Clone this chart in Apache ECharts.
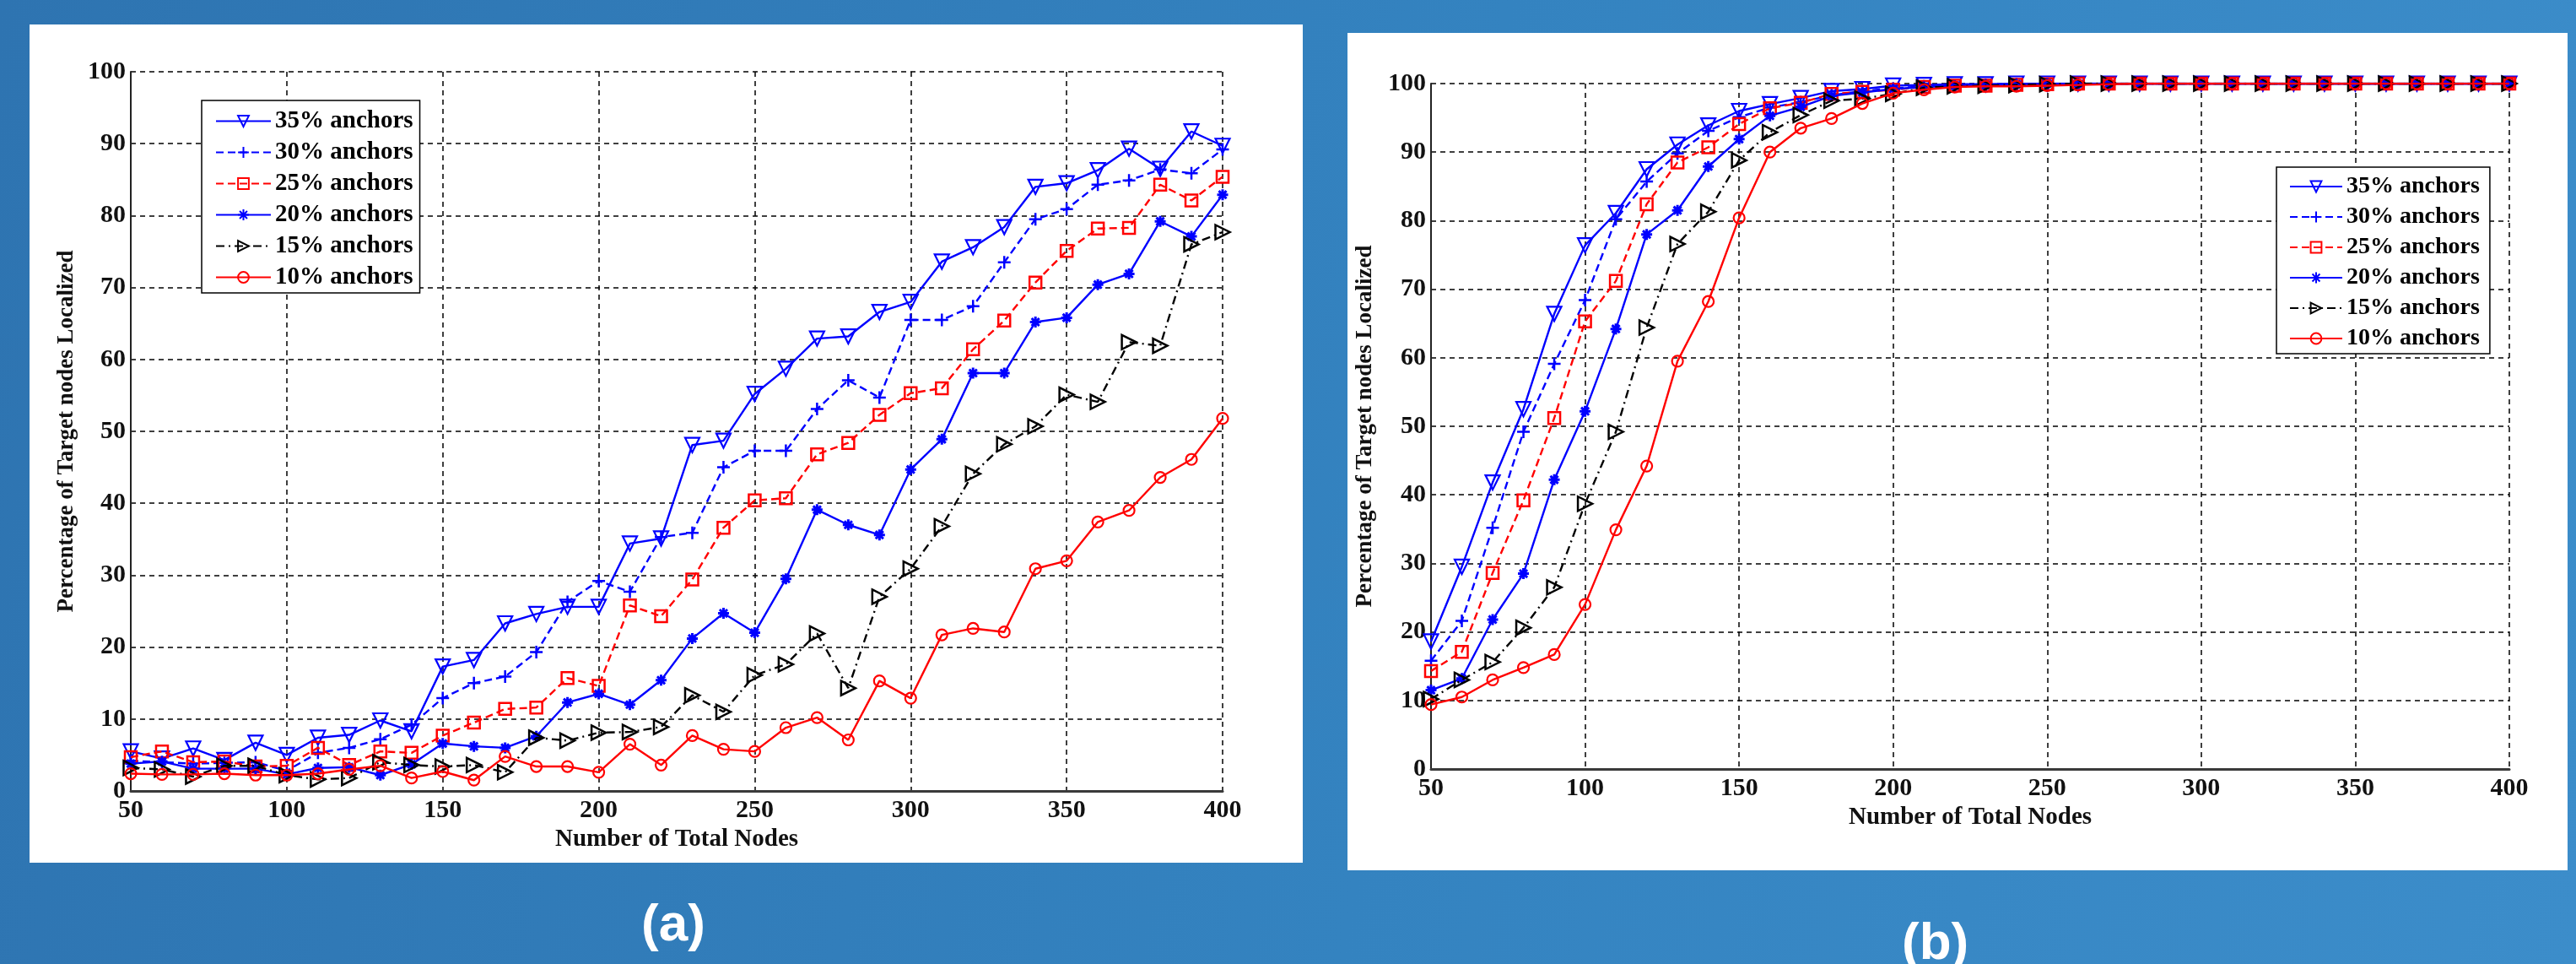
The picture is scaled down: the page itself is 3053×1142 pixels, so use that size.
<!DOCTYPE html>
<html>
<head>
<meta charset="utf-8">
<title>Localization vs nodes</title>
<script src="https://cdn.jsdelivr.net/npm/echarts@6.0.0/dist/echarts.min.js"></script>
<style>
  html, body {
    margin: 0;
    padding: 0;
    width: 3053px;
    height: 1142px;
    overflow: hidden;
    background: linear-gradient(100deg, #2e74b1 0%, #3483c0 55%, #3c8dca 100%);
  }
  .panel {
    position: absolute;
    background: #fff;
  }
  #panelA { left: 35px; top: 29px; width: 1509px; height: 993px; }
  #panelB { left: 1597px; top: 39px; width: 1446px; height: 992px; }
  #chart {
    position: absolute;
    left: 0;
    top: 0;
    width: 3053px;
    height: 1142px;
  }
</style>
</head>
<body>
<div class="panel" id="panelA"></div>
<div class="panel" id="panelB"></div>
<div id="chart"></div>
<script>
// x values (number of total nodes)
const nodes = [50, 60, 70, 80, 90, 100, 110, 120, 130, 140, 150, 160, 170, 180, 190, 200, 210, 220,
  230, 240, 250, 260, 270, 280, 290, 300, 310, 320, 330, 340, 350, 360, 370, 380, 390, 400];

const names = ["35% anchors", "30% anchors", "25% anchors", "20% anchors", "15% anchors", "10% anchors"];

// chart (a)
const a35 = [5.5, 4.5, 5.9, 4.3, 6.7, 5.0, 7.4, 7.8, 9.8, 8.3, 17.3, 18.2, 23.3, 24.6, 25.6, 25.6, 34.4, 35.1,
  48.1, 48.7, 55.2, 58.7, 62.9, 63.2, 66.6, 68.0, 73.6, 75.6, 78.4, 84.0, 84.5, 86.3, 89.3, 86.5, 91.7, 89.7];
const a30 = [4.2, 4.0, 3.8, 3.9, 4.0, 2.8, 5.3, 6.0, 7.2, 9.2, 12.9, 15.0, 15.9, 19.3, 26.3, 29.2, 27.7, 35.3,
  35.9, 45.0, 47.3, 47.3, 53.1, 57.1, 54.7, 65.5, 65.5, 67.4, 73.5, 79.5, 80.9, 84.3, 84.9, 86.4, 85.9, 89.2];
const a25 = [4.7, 5.5, 4.0, 4.1, 3.4, 3.5, 6.0, 3.6, 5.5, 5.3, 7.7, 9.5, 11.4, 11.6, 15.7, 14.6, 25.8, 24.3,
  29.4, 36.6, 40.4, 40.7, 46.8, 48.4, 52.3, 55.3, 56.0, 61.4, 65.4, 70.7, 75.1, 78.2, 78.3, 84.3, 82.1, 85.4];
const a20 = [3.8, 4.1, 3.1, 3.1, 3.1, 2.3, 3.2, 3.3, 2.2, 3.7, 6.6, 6.2, 6.0, 7.6, 12.3, 13.5, 12.0, 15.4,
  21.2, 24.7, 22.0, 29.5, 39.1, 37.0, 35.6, 44.7, 48.9, 58.1, 58.1, 65.2, 65.8, 70.4, 71.9, 79.2, 77.1, 82.9];
const a15 = [3.2, 3.0, 2.0, 3.5, 3.5, 2.2, 1.6, 1.8, 4.0, 3.6, 3.4, 3.6, 2.6, 7.4, 7.0, 8.1, 8.2, 8.9,
  13.3, 11.0, 16.1, 17.6, 21.9, 14.3, 27.0, 30.9, 36.8, 44.1, 48.2, 50.7, 55.1, 54.1, 62.4, 61.9, 76.0, 77.7];
const a10 = [2.4, 2.3, 2.3, 2.4, 2.2, 2.2, 2.4, 3.0, 3.5, 1.8, 2.7, 1.5, 4.8, 3.4, 3.4, 2.6, 6.5, 3.6,
  7.7, 5.8, 5.5, 8.8, 10.2, 7.1, 15.3, 12.9, 21.7, 22.6, 22.1, 30.9, 32.0, 37.4, 39.0, 43.6, 46.1, 51.8];

// chart (b)
const b35 = [18.6, 29.5, 41.8, 52.5, 66.4, 76.4, 81.1, 87.5, 91.1, 93.9, 96.0, 97.0, 97.9, 98.9, 99.2, 99.7, 99.8, 99.9,
  99.9, 100, 100, 100, 100, 100, 100, 100, 100, 100, 100, 100, 100, 100, 100, 100, 100, 100];
const b30 = [15.8, 21.6, 35.2, 49.2, 59.1, 68.4, 80.2, 85.7, 89.8, 93.1, 95.1, 96.5, 97.3, 98.3, 98.9, 99.3, 99.6, 99.7,
  99.8, 99.9, 99.9, 100, 100, 100, 100, 100, 100, 100, 100, 100, 100, 100, 100, 100, 100, 100];
const b25 = [14.3, 17.1, 28.6, 39.2, 51.2, 65.3, 71.2, 82.4, 88.5, 90.7, 94.1, 96.4, 97.2, 98.5, 98.8, 99.1, 99.5, 99.7,
  99.7, 99.8, 99.9, 100, 100, 100, 100, 100, 100, 100, 100, 100, 100, 100, 100, 100, 100, 100];
const b20 = [11.5, 13.2, 21.8, 28.5, 42.2, 52.2, 64.2, 78.0, 81.5, 87.9, 91.9, 95.3, 96.6, 98.2, 98.7, 99.2, 99.5, 99.7,
  99.8, 99.9, 100, 100, 100, 100, 100, 100, 100, 100, 100, 100, 100, 100, 100, 100, 100, 100];
const b15 = [10.2, 13.0, 15.6, 20.6, 26.5, 38.7, 49.2, 64.4, 76.6, 81.3, 88.8, 92.9, 95.4, 97.5, 97.8, 98.5, 99.4, 99.6,
  99.7, 99.8, 99.9, 100, 100, 100, 100, 100, 100, 100, 100, 100, 100, 100, 100, 100, 100, 100];
const b10 = [9.4, 10.5, 13.0, 14.8, 16.7, 24.0, 34.9, 44.2, 59.5, 68.2, 80.4, 90.0, 93.5, 94.9, 97.1, 98.6, 99.1, 99.5,
  99.6, 99.6, 99.7, 99.8, 99.9, 100, 100, 100, 100, 100, 100, 100, 100, 100, 100, 100, 100, 100];

var myChart = echarts.init(document.getElementById("chart"));

let fontFam = "Liberation Serif";
let blue = "#0000ff", red = "#ff0000", black = "#000000";

// marker / line style per series (same order as names)
let styles = [
  { color: blue, type: "solid", symbol: "path://M0,0 L10,0 L5,9 Z", size: 17, bw: 2.2 },
  { color: blue, type: [9, 5], symbol: "path://M5,0 L5,10 M0,5 L10,5", size: 15, bw: 2.5 },
  { color: red, type: [9, 5], symbol: "path://M0,0 L10,0 L10,10 L0,10 Z", size: 14, bw: 2.5 },
  { color: blue, type: "solid", symbol: "path://M5,0 L5,10 M0,5 L10,5 M1.5,1.5 L8.5,8.5 M8.5,1.5 L1.5,8.5", size: 13, bw: 3 },
  { color: black, type: [10, 5, 2, 5], symbol: "path://M0,0 L9,5 L0,10 Z", size: 17, bw: 2.5 },
  { color: red, type: "solid", symbol: "circle", size: 13, bw: 2.2 },
];

function makeSeries(vals, k, gi) {
  let s = styles[k];
  return {
    name: names[k],
    type: "line",
    xAxisIndex: gi,
    yAxisIndex: gi,
    data: nodes.map((x, i) => [x, vals[i]]),
    symbol: s.symbol,
    symbolSize: s.size,
    showSymbol: true,
    lineStyle: { color: s.color, width: 2.4, type: s.type },
    itemStyle: { color: "rgba(0,0,0,0)", borderColor: s.color, borderWidth: s.bw },
    emphasis: { disabled: true },
    z: 3 + k,
  };
}

let _series = [];
[a35, a30, a25, a20, a15, a10].forEach((v, k) => _series.push(makeSeries(v, k, 0)));
[b35, b30, b25, b20, b15, b10].forEach((v, k) => _series.push(makeSeries(v, k, 1)));

function xAxisCfg(gi, gap) {
  return {
    type: "value",
    gridIndex: gi,
    min: 50,
    max: 400,
    interval: 50,
    name: "Number of Total Nodes",
    nameLocation: "middle",
    nameGap: gap,
    nameTextStyle: { fontFamily: fontFam, fontWeight: "bold", fontSize: 29, color: "#111" },
    axisLine: { show: true, lineStyle: { color: "#3a3a3a", width: 3 } },
    axisTick: { show: false },
    axisLabel: { margin: 8, fontFamily: fontFam, fontWeight: "bold", fontSize: 30, color: "#111" },
    splitLine: { show: true, lineStyle: { color: "#000", width: 1.5, type: [6, 5] } },
  };
}

function yAxisCfg(gi, gap) {
  return {
    type: "value",
    gridIndex: gi,
    min: 0,
    max: 100,
    interval: 10,
    name: "Percentage of Target nodes Localized",
    nameLocation: "middle",
    nameGap: gap,
    nameTextStyle: { fontFamily: fontFam, fontWeight: "bold", fontSize: 27, color: "#111" },
    axisLine: { show: true, lineStyle: { color: "#222", width: 2 } },
    axisTick: { show: false },
    axisLabel: { margin: 6, fontFamily: fontFam, fontWeight: "bold", fontSize: 30, color: "#111" },
    splitLine: { show: true, lineStyle: { color: "#000", width: 1.5, type: [6, 5] } },
  };
}

function legendCfg(left, top, pad, iw, fs) {
  return {
    data: names,
    orient: "vertical",
    left: left,
    top: top,
    padding: pad,
    itemGap: 8,
    itemWidth: iw,
    itemHeight: 16,
    backgroundColor: "#fff",
    borderColor: "#000",
    borderWidth: 1.5,
    selectedMode: false,
    textStyle: { fontFamily: fontFam, fontWeight: "bold", fontSize: fs, color: "#000" },
  };
}

var option = {
  backgroundColor: "transparent",
  animation: false,
  grid: [
    { left: 155, top: 85, width: 1294, height: 852 },
    { left: 1696, top: 99, width: 1278, height: 812 },
  ],
  xAxis: [xAxisCfg(0, 40), xAxisCfg(1, 42)],
  yAxis: [yAxisCfg(0, 62), yAxisCfg(1, 64)],
  legend: [
    legendCfg(239, 119, [10, 8, 4, 16], 65, 29),
    legendCfg(2698, 198, [9, 12, 4, 15], 62, 28),
  ],
  graphic: [
    {
      type: "text",
      left: 800 - 40,
      top: 1066,
      style: { text: "(a)", font: "bold 62px 'Liberation Sans'", fill: "#fff" },
    },
    {
      type: "text",
      left: 2294 - 40,
      top: 1088,
      style: { text: "(b)", font: "bold 62px 'Liberation Sans'", fill: "#fff" },
    },
  ],
  series: _series,
};

myChart.setOption(option);
</script>
</body>
</html>
